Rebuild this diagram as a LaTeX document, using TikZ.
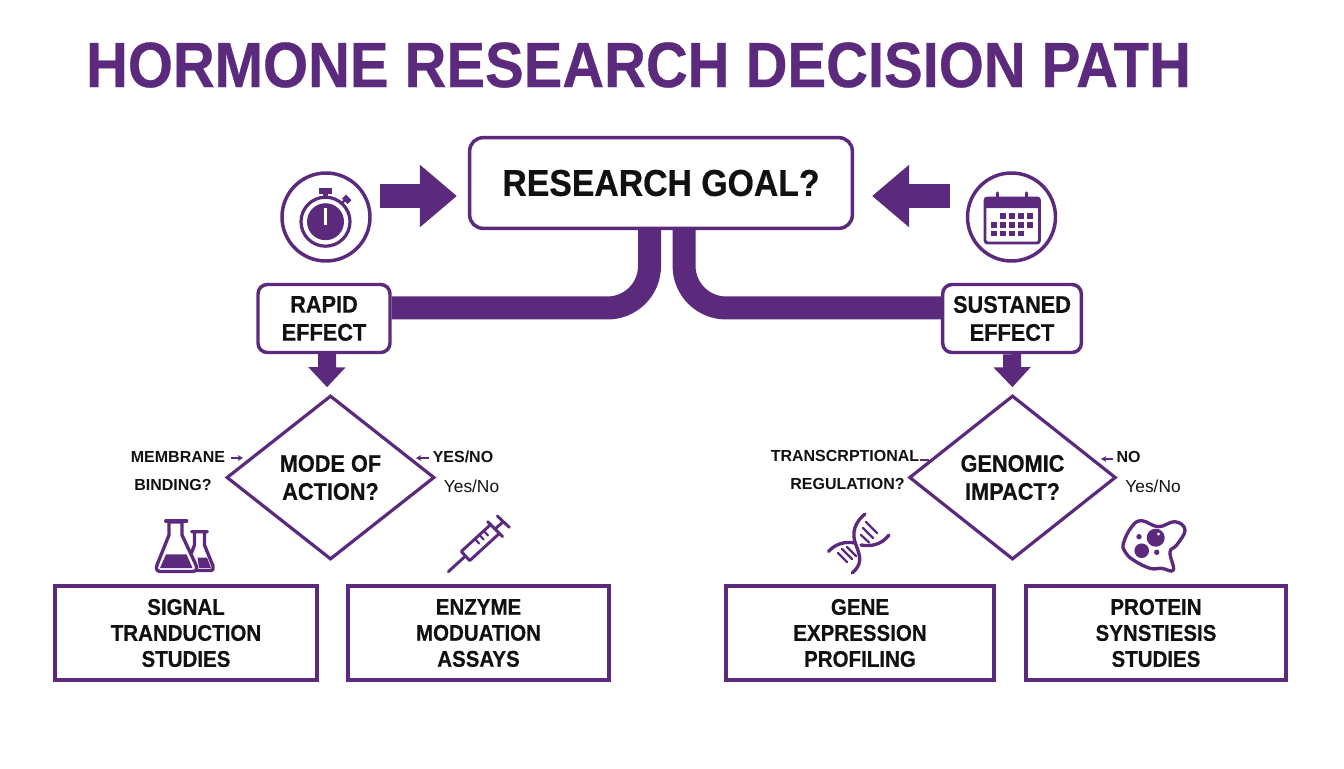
\documentclass[tikz,border=0pt]{standalone}
\usepackage{fontspec}
\setmainfont{Liberation Sans}[FakeStretch=0.905,BoldFeatures={FakeBold=0.5}]
\newfontfamily\labelfont{Liberation Sans}
\usetikzlibrary{arrows.meta}
\usetikzlibrary{shapes.geometric}
\definecolor{hormonepurple}{RGB}{91,42,125}
\definecolor{inkblack}{RGB}{17,17,17}
\tikzset{
	goalbox/.style={draw=hormonepurple,line width=2.6pt,rounded corners=10pt,fill=white,text=inkblack,minimum width=287pt,minimum height=68pt,font=\fontsize{28}{32}\selectfont\bfseries},
	effectbox/.style={draw=hormonepurple,line width=2.6pt,rounded corners=7pt,fill=white,text=inkblack,align=center,minimum height=51pt,inner sep=0pt,font=\fontsize{18}{21}\selectfont\bfseries},
	decision/.style={diamond,draw=hormonepurple,line width=2.4pt,fill=white,text=inkblack,align=center,inner sep=0pt,minimum height=123pt,font=\fontsize{18}{21}\selectfont\bfseries},
	studybox/.style={draw=hormonepurple,line width=2.8pt,fill=white,text=inkblack,align=center,minimum height=70pt,inner sep=0pt,font=\fontsize{17}{19.5}\selectfont\bfseries},
	sidelabel/.style={text=inkblack,inner sep=0pt,font=\labelfont\fontsize{12}{14}\selectfont\bfseries},
	answerlabel/.style={text=inkblack,inner sep=0pt,font=\labelfont\fontsize{13}{14}\selectfont},
	iconring/.style={circle,draw=hormonepurple,line width=2.6pt,fill=white,minimum size=66pt,inner sep=0pt},
	sidearrow/.style={draw=hormonepurple,line width=18pt,-{Triangle[length=27.75pt,width=45pt]}},
	downarrow/.style={draw=hormonepurple,line width=13.5pt,-{Triangle[length=15pt,width=27pt]}},
	trunk/.style={draw=hormonepurple,line width=17.25pt,rounded corners=31.5pt},
	tinyarrow/.style={draw=hormonepurple,line width=1.1pt,-{Stealth[length=4pt,width=4.5pt]}},
	iconline/.style={draw=hormonepurple,line width=2.5pt,line join=round,line cap=round}
}

\begin{document}
\begin{tikzpicture}[x=0.75pt,y=0.75pt,yscale=-1,xscale=1]
	\useasboundingbox (0,0) rectangle (1344,768);
	\fill [white] (0,0) rectangle (1344,768);

	% Title
	\draw (638.5,65) node (title) [text=hormonepurple,inner sep=0pt,font=\fontsize{48}{52}\selectfont\bfseries] {HORMONE RESEARCH DECISION PATH};

	% Boxes
	\draw (661,183) node (goal) [goalbox] {RESEARCH GOAL?};
	\draw (324,318.5) node (rapid) [effectbox,minimum width=99pt] {RAPID\\EFFECT};
	\draw (1012,318.5) node (sustained) [effectbox,minimum width=104pt] {SUSTANED\\EFFECT};

	% Diamonds
	\draw (330.5,477.5) node (modeq) [decision,minimum width=156pt] {MODE OF\\ACTION?};
	\draw (1012.5,477.5) node (genomicq) [decision,minimum width=155pt] {GENOMIC\\IMPACT?};

	% Study boxes
	\draw (186,633) node (signal) [studybox,minimum width=197pt] {SIGNAL\\TRANDUCTION\\STUDIES};
	\draw (478.5,633) node (enzyme) [studybox,minimum width=196pt] {ENZYME\\MODUATION\\ASSAYS};
	\draw (860,633) node (gene) [studybox,minimum width=201pt] {GENE\\EXPRESSION\\PROFILING};
	\draw (1156,633) node (protein) [studybox,minimum width=195pt] {PROTEIN\\SYNSTIESIS\\STUDIES};

	% Trunks
	\draw [trunk] ([xshift=-8.6pt]goal.south) |- ([yshift=-7.9pt]rapid.east);
	\draw [trunk] ([xshift=17.3pt]goal.south) |- ([yshift=-7.9pt]sustained.west);

	% Arrows to the goal
	\coordinate (timerarrow) at (380,196);
	\coordinate (calendararrow) at (950,196);
	\draw [sidearrow,shorten >=8.25pt] (timerarrow) -- (timerarrow -| goal.west);
	\draw [sidearrow,shorten >=13.5pt] (calendararrow) -- (calendararrow -| goal.east);

	% Arrows to the diamonds
	\draw [downarrow,shorten >=5pt] ([xshift=2.3pt]rapid.south) -- ([xshift=-2.6pt]modeq.north);
	\draw [downarrow,shorten >=5pt] (sustained.south) -- (genomicq.north);

	% Left labels
	\draw (178,457) node (membrane) [sidelabel] {MEMBRANE};
	\draw (173,485) node (binding) [sidelabel] {BINDING?};
	\draw (463,457) node (yesnoa) [sidelabel] {YES/NO};
	\draw (471.5,486) node (yesnob) [answerlabel] {Yes/No};
	\coordinate (membranefrom) at (231,458);
	\coordinate (membraneto) at (243,458);
	\coordinate (yesnofrom) at (429,458);
	\coordinate (yesnoto) at (416,458);
	\draw [tinyarrow] (membranefrom) -- (membraneto);
	\draw [tinyarrow] (yesnofrom) -- (yesnoto);

	% Right labels
	\draw (845,456) node (transcr) [sidelabel] {TRANSCRPTIONAL};
	\draw (847.5,484) node (regulation) [sidelabel] {REGULATION?};
	\draw (1128.5,457) node (noa) [sidelabel] {NO};
	\draw (1153,486) node (yesnoc) [answerlabel] {Yes/No};
	\coordinate (transcrfrom) at (920,460);
	\coordinate (transcrto) at (929,460);
	\coordinate (nofrom) at (1113,459);
	\coordinate (noto) at (1101,459);
	\draw [tinyarrow,-] (transcrfrom) -- (transcrto);
	\draw [tinyarrow] (nofrom) -- (noto);

	%Icon: stopwatch
	\draw (326,217) node (timer) [iconring] {};
	\draw [draw=hormonepurple,line width=2.4pt] (325.5,221.7) circle (24.5);
	\fill [hormonepurple] (325.5,221.7) circle (18.5);
	\draw [white,line width=2.6pt] (325.5,208) -- (325.5,224.5);
	\fill [hormonepurple] (319,187.7) rectangle (332,193.5);
	\fill [hormonepurple] (323,193) rectangle (328,198);
	\draw [hormonepurple,line width=1.8pt] (341,204) -- (345,200);
	\draw [hormonepurple,line width=4pt] (344,196.5) -- (349.5,202);

	%Icon: calendar
	\draw (1011.5,217) node (calendar) [iconring] {};
	\draw [hormonepurple,line width=2.2pt,rounded corners=2pt] (985,198) rectangle (1039.5,243);
	\fill [hormonepurple,rounded corners=2pt] (984,197.3) rectangle (1040.5,208);
	\draw [hormonepurple,line width=2.6pt,line cap=round] (997.7,193) -- (997.7,198) (1026.7,193) -- (1026.7,198);
	\foreach \cx in {1003,1012,1021,1030}
		\fill [hormonepurple] (\cx-2.7,213.3) rectangle (\cx+2.7,218.7);
	\foreach \cx in {994,1003,1012,1021,1030}
		\fill [hormonepurple] (\cx-2.7,222.3) rectangle (\cx+2.7,227.7);
	\foreach \cx in {994,1003,1012,1021}
		\fill [hormonepurple] (\cx-2.7,230.8) rectangle (\cx+2.7,236.2);

	%Icon: flasks
	\draw [iconline,fill=white] (191.7,531.7) -- (207.3,531.7) (194.5,531.7) -- (194.5,545) -- (186,567) .. controls (185,570) and (187,570.5) .. (189,570.5) -- (210,570.5) .. controls (213,570.5) and (214,568.5) .. (213,566) -- (204.5,545) -- (204.5,531.7);
	\fill [hormonepurple] (197.5,557.5) -- (207,557.5) -- (211,568) -- (199,568) -- cycle;
	\draw [iconline,fill=white] (169,535) -- (169,522) -- (182,522) -- (182,535) -- (196,565) .. controls (198,570) and (195,571.5) .. (192,571.5) -- (161,571.5) .. controls (158,571.5) and (155,570) .. (157,565) -- cycle;
	\draw [iconline] (165.7,521) -- (186.7,521);
	\fill [hormonepurple] (166,554.3) -- (186.5,554.3) -- (192.5,568) -- (160,568) -- cycle;

	%Icon: syringe
	\draw [iconline,line width=2.2pt] (461.3,551.4) -- (490.8,524.4) (469.7,560.6) -- (499.2,533.6) (461.3,551.4) -- (469.7,560.6);
	\draw [iconline,line width=2.2pt] (487.7,521.7) -- (502.7,536.7) (497.3,516) -- (509.3,527.3) (495,529) -- (503.3,521.7);
	\draw [iconline,line width=2.2pt] (465.5,556) -- (448.3,571.7);
	\foreach \tx/\ty in {475.5/539.5,480/535.5,484.5/531.5}
		\draw [iconline,line width=1.6pt] (\tx,\ty) -- (\tx+3.5,\ty+4);

	%Icon: helix
	\draw [iconline] (865,514) .. controls (855,522) and (851,533) .. (856,545) .. controls (861,558) and (862,564) .. (852.3,573);
	\draw [iconline] (828.5,551.5) .. controls (835,544) and (845,541) .. (855,543) (861,545) .. controls (872,547) and (882,544) .. (889,535);
	\draw [iconline,line width=1.7pt] (866,522) -- (877,533) (863,528) -- (873,538) (861,535) -- (869,542.5);
	\draw [iconline,line width=1.7pt] (847,547) -- (856,556) (842,549) -- (852,559) (838,553) -- (847,562);

	%Icon: cell
	\draw [iconline,fill=white] plot [smooth cycle,tension=0.7] coordinates {(1123.5,543) (1131.7,526.7) (1141.7,520.7) (1158.3,526.7) (1175,521.7) (1185,530) (1176.7,545) (1170,552) (1173.3,570) (1161.7,568.3) (1150,568.3) (1133.3,560) (1125,551.7)};
	\fill [hormonepurple] (1155.7,537.7) circle (9);
	\fill [white] (1158.5,534) circle (1.6);
	\fill [hormonepurple] (1141.7,550.7) circle (7.3);
	\fill [hormonepurple] (1139,536.7) circle (2.7);
	\fill [hormonepurple] (1156.7,552.3) circle (2.7);
\end{tikzpicture}
\end{document}
